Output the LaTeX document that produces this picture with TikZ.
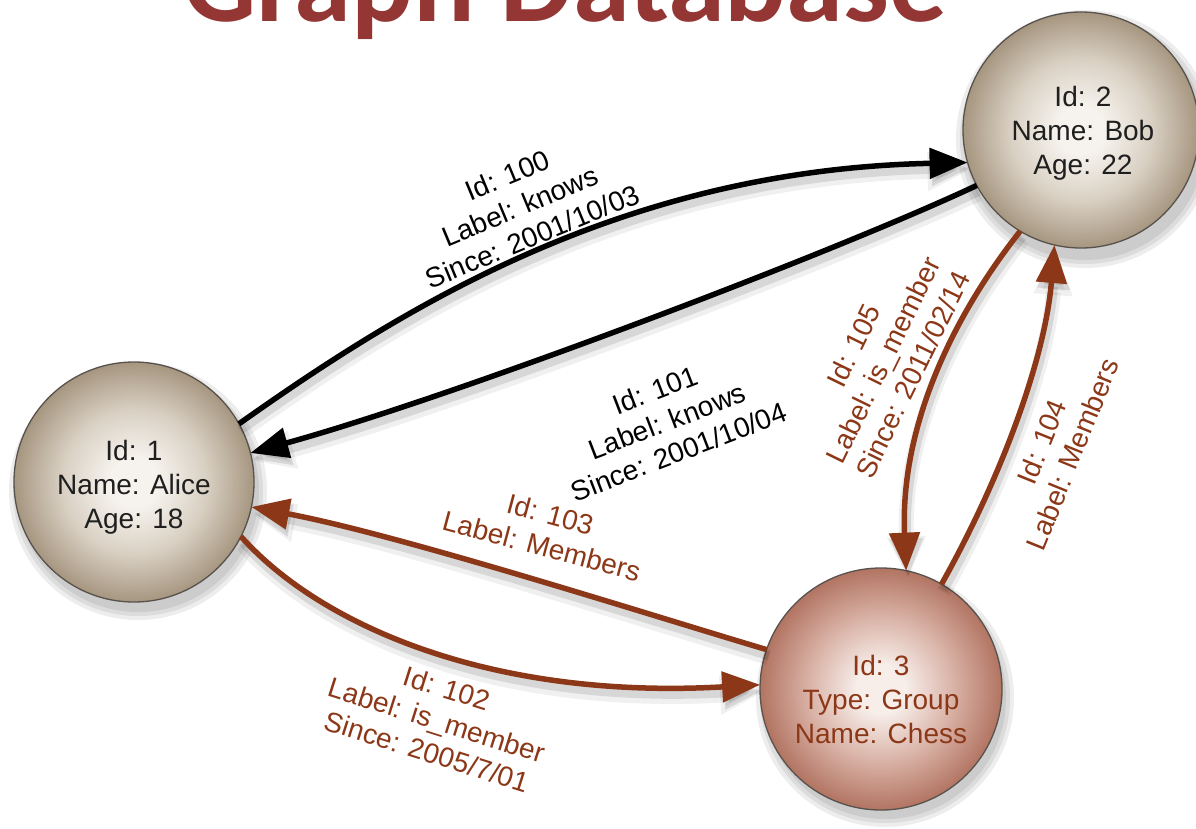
\documentclass[tikz,border=0pt]{standalone}
\usepackage{fontspec}
\setmainfont{Liberation Sans}
\newfontfamily\titlefont{Carlito}
\usetikzlibrary{arrows.meta}
\definecolor{tanin}{HTML}{F6F3EE}
\definecolor{tanmid}{HTML}{D9D0C3}
\definecolor{tanout}{HTML}{A69680}
\definecolor{rosein}{HTML}{F7EEEA}
\definecolor{rosemid}{HTML}{D9B2A6}
\definecolor{roseout}{HTML}{B27462}
\definecolor{edgebrown}{HTML}{8C3818}
\definecolor{titlered}{HTML}{943634}
\definecolor{rimgray}{HTML}{57524C}
\pgfdeclareradialshading{tanball}{\pgfpoint{0bp}{0bp}}{color(0bp)=(tanin); color(5bp)=(tanin); color(15bp)=(tanmid); color(25bp)=(tanout); color(50bp)=(tanout)}
\pgfdeclareradialshading{roseball}{\pgfpoint{0bp}{0bp}}{color(0bp)=(rosein); color(5bp)=(rosein); color(15bp)=(rosemid); color(25bp)=(roseout); color(50bp)=(roseout)}
\tikzset{
  ball/.style={circle, inner sep=0pt, outer sep=0pt, draw=rimgray, line width=1.3pt},
  nodetext/.style={font=\fontsize{28}{34}\selectfont, align=center, inner sep=0pt},
  lbl/.style={font=\fontsize{28}{33}\selectfont, align=center, inner sep=0pt},
  blk/.style={line width=5.5pt, draw=black, -{Triangle[length=38pt,width=30pt]}},
  brn/.style={line width=5.5pt, draw=edgebrown, -{Triangle[length=38pt,width=30pt]}},
  shA/.style={line width=15pt, draw=black, opacity=0.06, -{Triangle[length=42pt,width=36pt]}, transform canvas={shift={(2pt,-8pt)}}},
  shB/.style={line width=9pt, draw=black, opacity=0.1, -{Triangle[length=38pt,width=31pt]}, transform canvas={shift={(2pt,-6pt)}}},
  shcirc/.style={fill=black, opacity=0.07},
}
\begin{document}
\begin{tikzpicture}[x=1pt, y=-1pt]
\useasboundingbox (0,0) rectangle (1196,829);
\clip (0,0) rectangle (1196,829);
\fill[white] (0,0) rectangle (1196,829);

% title
\node[font=\titlefont\bfseries\fontsize{115}{120}\selectfont, text=titlered, anchor=base, inner sep=0pt] (title) at (565,22) {Graph Database};

% circle shadows
\foreach \r in {129,125,121} {
  \fill[shcirc] (138,491) circle (\r);
  \fill[shcirc] (1085,139) circle (\r);
  \fill[shcirc] (885,698) circle (\r);
}

% nodes
\node[ball, minimum size=240pt, shading=tanball] (alice) at (134,482) {};
\node[ball, minimum size=236pt, shading=tanball] (bob) at (1081,130) {};
\node[ball, minimum size=242pt, shading=roseball] (chess) at (881,689) {};

\node[nodetext, text=black!88] (alicetxt) at (134,487) {Id: 1\\Name: Alice\\Age: 18};
\node[nodetext, text=black!88] (bobtxt) at (1083,133) {Id: 2\\Name: Bob\\Age: 22};
\node[nodetext, text=edgebrown] (chesstxt) at (881,699) {Id: 3\\Type: Group\\Name: Chess};

% edge shadows
\foreach \s in {shA,shB} {
  \draw[\s] (alice.29) .. controls (400,310) and (620,170) .. (bob.196);
  \draw[\s] (bob.208) .. controls (840,250) and (460,395) .. (alice.14);
  \draw[\s] (alice.-27) .. controls (320,625) and (490,700) .. (chess.178);
  \draw[\s] (chess.161) .. controls (650,615) and (400,535) .. (alice.-12);
  \draw[\s] (chess.60) .. controls (1000,480) and (1045,360) .. (bob.257);
  \draw[\s] (bob.239) .. controls (950,320) and (900,430) .. (chess.78);
}

% edges
\draw[blk] (alice.29) .. controls (400,310) and (620,170) .. (bob.196);
\draw[blk] (bob.208) .. controls (840,250) and (460,395) .. (alice.14);
\draw[brn] (alice.-27) .. controls (320,625) and (490,700) .. (chess.178);
\draw[brn] (chess.161) .. controls (650,615) and (400,535) .. (alice.-12);
\draw[brn] (chess.60) .. controls (1000,480) and (1045,360) .. (bob.257);
\draw[brn] (bob.239) .. controls (950,320) and (900,430) .. (chess.78);

% edge labels
\node[lbl, rotate=22.5] (l100) at (520,206) {Id: 100\\Label: knows\\Since: 2001/10/03};
\node[lbl, rotate=21] (l101) at (667,421) {Id: 101\\Label: knows\\Since: 2001/10/04};
\node[lbl, rotate=-17.5, text=edgebrown] (l102) at (437,720) {Id: 102\\Label: is\_member\\Since: 2005/7/01};
\node[lbl, rotate=-15, text=edgebrown] (l103) at (546,530) {Id: 103\\Label: Members};
\node[lbl, rotate=68, text=edgebrown] (l104) at (1057,448) {Id: 104\\Label: Members};
\node[lbl, rotate=64, text=edgebrown] (l105) at (883,360) {Id: 105\\Label: is\_member\\Since: 2011/02/14};
\end{tikzpicture}
\end{document}
